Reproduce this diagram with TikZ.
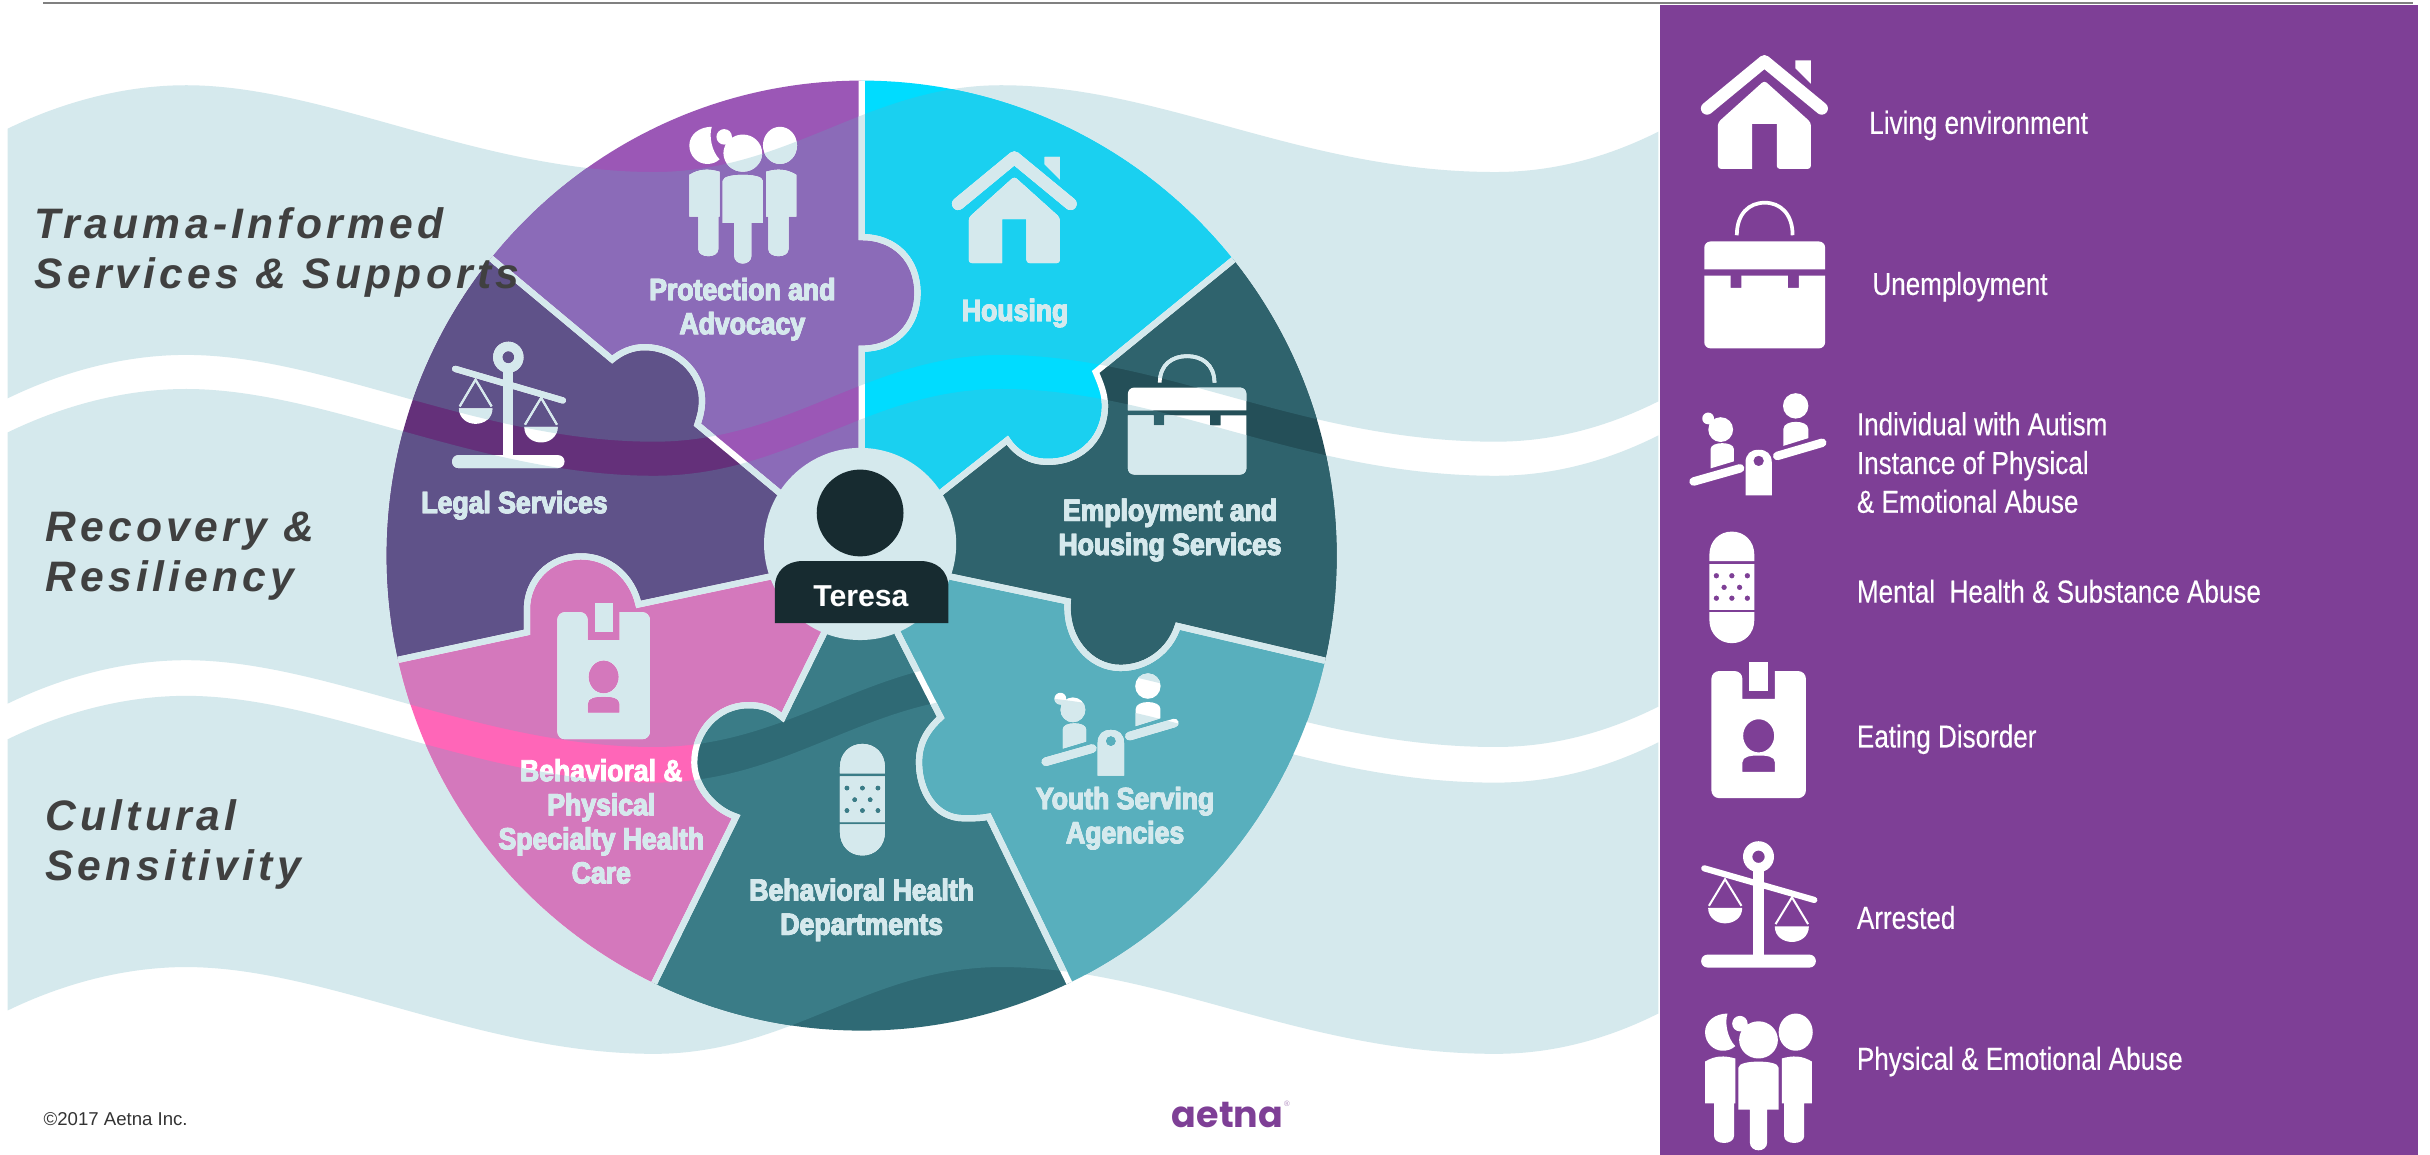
\documentclass[tikz,border=0pt]{standalone}
\usepackage{fontspec}
\newfontfamily\headfont[LetterSpace=10]{Liberation Sans}
\newfontfamily\wheelfont[FakeStretch=0.88,FakeBold=3]{Liberation Sans}
\newfontfamily\panelfont[FakeStretch=0.82,FakeBold=0.3]{Liberation Sans}
\newfontfamily\plainfont{Liberation Sans}
\newfontfamily\logofont{Poppins}

\definecolor{pale}{HTML}{D5E9ED}
\definecolor{panelpurple}{HTML}{7E3F96}
\definecolor{personblack}{HTML}{172B30}
\definecolor{headgray}{HTML}{404040}
\colorlet{ink}{white}

\newcommand{\bandpath}[2]{(5,{83+#1}) .. controls (40,{66+#1}) and (80,{55+#1}) .. (120,{55+#1}) .. controls (210,{55+#1}) and (310,{111+#1}) .. (422,{111+#1}) .. controls (510,{111+#1}) and (560,{55+#1}) .. (646,{55+#1}) .. controls (750,{55+#1}) and (840,{111+#1}) .. (965,{111+#1}) .. controls (1005,{111+#1}) and (1040,{100+#1}) .. (1070,{85+#1}) -- (1070,{85+#2}) .. controls (1040,{100+#2}) and (1005,{111+#2}) .. (965,{111+#2}) .. controls (840,{111+#2}) and (750,{55+#2}) .. (646,{55+#2}) .. controls (560,{55+#2}) and (510,{111+#2}) .. (422,{111+#2}) .. controls (310,{111+#2}) and (210,{55+#2}) .. (120,{55+#2}) .. controls (80,{55+#2}) and (40,{66+#2}) .. (5,{83+#2}) -- cycle}
\newcommand{\bands}{\bandpath{0}{174} \bandpath{196}{371} \bandpath{394}{569}}

\newcommand{\edgeA}{(556,290) -- (556,225) .. controls (578,225) and (592,210) .. (592,189) .. controls (592,168) and (578,153) .. (556,153) -- (556,40)}
\newcommand{\backA}{(556,40) -- (556,153) .. controls (578,153) and (592,168) .. (592,189) .. controls (592,210) and (578,225) .. (556,225) -- (556,290)}
\newcommand{\edgeB}{(607,318) -- (650,284) .. controls (656,293) and (665,298) .. (676,298) .. controls (700,298) and (713,280) .. (713,262) .. controls (713,254) and (710,247) .. (707,240) -- (815,152)}
\newcommand{\backB}{(815,152) -- (707,240) .. controls (710,247) and (713,254) .. (713,262) .. controls (713,280) and (700,298) .. (676,298) .. controls (665,298) and (656,293) .. (650,284) -- (607,318)}
\newcommand{\edgeC}{(613,372) -- (689,388) .. controls (687,412) and (703,431) .. (723,431) .. controls (740,431) and (755,420) .. (760,404) -- (875,431)}
\newcommand{\backC}{(875,431) -- (760,404) .. controls (755,420) and (740,431) .. (723,431) .. controls (703,431) and (687,412) .. (689,388) -- (613,372)}
\newcommand{\edgeD}{(579,408) -- (607,463) .. controls (597,472) and (593,481) .. (593,492) .. controls (593,510) and (603,528) .. (622,528) .. controls (628,528) and (633,528) .. (638,527) -- (700,655)}
\newcommand{\backD}{(700,655) -- (638,527) .. controls (633,528) and (628,528) .. (622,528) .. controls (603,528) and (593,510) .. (593,492) .. controls (593,481) and (597,472) .. (607,463) -- (579,408)}
\newcommand{\edgeE}{(532,408) -- (505,463) .. controls (498,457) and (491,455) .. (483,455) .. controls (463,455) and (448,472) .. (448,492) .. controls (448,507) and (460,522) .. (475,527) -- (412,655)}
\newcommand{\backE}{(412,655) -- (475,527) .. controls (460,522) and (448,507) .. (448,492) .. controls (448,472) and (463,455) .. (483,455) .. controls (491,455) and (498,457) .. (505,463) -- (532,408)}
\newcommand{\edgeF}{(497,372) -- (412,390) .. controls (408,372) and (393,359) .. (375,359) .. controls (354,359) and (340,375) .. (340,393) .. controls (340,398) and (340,403) .. (340,408) -- (237,430)}
\newcommand{\backF}{(237,430) -- (340,408) .. controls (340,403) and (340,398) .. (340,393) .. controls (340,375) and (354,359) .. (375,359) .. controls (393,359) and (408,372) .. (412,390) -- (497,372)}
\newcommand{\edgeG}{(503,318) -- (450,274) .. controls (452,268) and (453,264) .. (453,258) .. controls (453,240) and (436,224) .. (416,224) .. controls (408,224) and (401,227) .. (395,232) -- (298,151)}
\newcommand{\backG}{(298,151) -- (395,232) .. controls (401,227) and (408,224) .. (416,224) .. controls (436,224) and (453,240) .. (453,258) .. controls (453,264) and (452,268) .. (450,274) -- (503,318)}

\newcommand{\wheelpiece}[3]{
  \fill[#1] #3;
  \begin{scope}
    \clip #3;
    \fill[#2] \bands;
  \end{scope}
}

\tikzset{
  houseicon/.pic={
    \draw[ink, line width=8, line cap=round, line join=round] (-37,-2) -- (0,-32.5) -- (37,-2);
    \fill[ink] (20,-33) -- (30,-33) -- (30,-18) -- (20,-28) -- cycle;
    \fill[ink, rounded corners=2] (0,-20) -- (30,7) -- (30,37) -- (8,37) [sharp corners] -- (8,8) -- (-8,8) -- (-8,37) [rounded corners=2] -- (-30,37) -- (-30,7) -- cycle;
  },
  bagicon/.pic={
    \draw[ink, line width=2.4] (-18,-26) .. controls (-18,-40) and (-10,-47) .. (0,-47) .. controls (10,-47) and (18,-40) .. (18,-26);
    \fill[ink] (-39,-4) [rounded corners=4] -- (-39,-22) -- (39,-22) [sharp corners] -- (39,-4) -- cycle;
    \fill[ink] (-39,0) [rounded corners=4] -- (-39,47) -- (39,47) [sharp corners] -- (39,0) -- (22,0) -- (22,8) -- (15,8) -- (15,0) -- (-15,0) -- (-15,8) -- (-22,8) -- (-22,0) -- cycle;
  },
  seesawicon/.pic={
    \draw[ink, line width=5.5, line cap=round] (-42,24) -- (-12,15.5) (12,7.5) -- (41,-1);
    \fill[ink, even odd rule] (-8.5,33) -- (-8.5,12) .. controls (-8.5,6) and (-5,3.5) .. (0,3.5) .. controls (5,3.5) and (8.5,6) .. (8.5,12) -- (8.5,33) -- cycle (0,10.7) circle (3.4);
    \fill[ink] (-24.5,-9.5) circle (8) (-32.6,-16.7) circle (3.8);
    \fill[ink] (-31,15.5) -- (-31,3) .. controls (-31,-2) and (-16,-2) .. (-16,3) -- (-16,11) -- cycle;
    \fill[ink] (23.9,-24.8) circle (8.2);
    \fill[ink] (16,1) -- (16,-10) .. controls (16,-16) and (32,-16) .. (32,-10) -- (32,-4) -- cycle;
  },
  bandageicon/.pic={
    \fill[ink] (-14.5,-17) -- (-14.5,-21) .. controls (-14.5,-30) and (-8,-36) .. (0,-36) .. controls (8,-36) and (14.5,-30) .. (14.5,-21) -- (14.5,-17) -- cycle;
    \fill[ink] (-14.5,16) -- (-14.5,21) .. controls (-14.5,30) and (-8,36) .. (0,36) .. controls (8,36) and (14.5,30) .. (14.5,21) -- (14.5,16) -- cycle;
    \fill[ink, even odd rule] (-14.5,-15) rectangle (14.5,14.5)
      (-10,-7.5) circle (1.8) (0,-7.5) circle (1.8) (10,-7.5) circle (1.8)
      (-5,0) circle (1.8) (5,0) circle (1.8)
      (-10,7) circle (1.8) (0,7) circle (1.8) (10,7) circle (1.8);
  },
  badgeicon/.pic={
    \fill[ink, even odd rule] [rounded corners=5] (-30.5,-38) -- (-10.5,-38) [sharp corners] -- (-10.5,-20) -- (10.5,-20) -- (10.5,-38) [rounded corners=5] -- (30.5,-38) -- (30.5,44) -- (-30.5,44) -- cycle
      [sharp corners] (0,3.8) ellipse (10 and 10.7)
      (-10.5,27) -- (-10.5,21) .. controls (-10.5,17) and (-5,16.5) .. (0,16.5) .. controls (5,16.5) and (10.5,17) .. (10.5,21) -- (10.5,27) -- cycle;
    \fill[ink] (-6,-44) rectangle (6,-25);
  },
  scaleicon/.pic={
    \fill[ink, even odd rule] (0,-30.5) circle (10) (0,-30.5) circle (4);
    \fill[ink] (-3.4,-21) rectangle (3.4,34);
    \fill[ink, rounded corners=4] (-37,32.7) rectangle (37,41);
    \draw[ink, line width=4, line cap=round] (-35,-23) -- (36,-2.6);
    \draw[ink, line width=1.3] (-32,1.2) -- (-21.6,-16) -- (-11,1.2) (11,13) -- (21.6,-4.3) -- (32,13);
    \fill[ink] (-32.5,2.5) .. controls (-32.5,9) and (-27,12.5) .. (-21.6,12.5) .. controls (-16,12.5) and (-10.5,9) .. (-10.5,2.5) -- cycle;
    \fill[ink] (10.5,14.5) .. controls (10.5,21) and (16,24.5) .. (21.6,24.5) .. controls (27,24.5) and (32.5,21) .. (32.5,14.5) -- cycle;
  },
  peopleicon/.pic={
    \fill[ink] (0,-27) ellipse (12.5 and 12) (-12,-37.5) circle (5);
    \fill[ink] (24,-32) ellipse (11 and 12);
    \fill[ink] (-20,-44) .. controls (-28,-44) and (-34.5,-39) .. (-34.5,-32) .. controls (-34.5,-25) and (-29,-20) .. (-23,-20) .. controls (-20,-20) and (-17,-21) .. (-15,-23) .. controls (-20,-28) and (-22,-38) .. (-20,-44) -- cycle;
    \fill[ink] (-13,18) -- (-13,-9) .. controls (-13,-12) and (-6,-13) .. (0,-13) .. controls (6,-13) and (13,-12) .. (13,-9) -- (13,18) -- (5.6,18) -- (5.6,39) .. controls (5.6,46) and (-5.6,46) .. (-5.6,39) -- (-5.6,18) -- cycle;
    \fill[ink] (-34.5,14) -- (-34.5,-13) .. controls (-28,-17) and (-22,-17) .. (-15,-15) -- (-15,14) -- (-15.8,14) -- (-15.8,35) .. controls (-15.8,41) and (-28.7,41) .. (-28.7,35) -- (-28.7,14) -- cycle;
    \fill[ink] (34.5,14) -- (34.5,-13) .. controls (28,-17) and (22,-17) .. (15,-15) -- (15,14) -- (16.5,14) -- (16.5,35) .. controls (16.5,41) and (29.5,41) .. (29.5,35) -- (29.5,14) -- cycle;
  }
}

\newcommand{\wheelmarks}[1]{
  \colorlet{ink}{#1}
  \draw[ink, line width=4] \edgeA \edgeB \edgeC \edgeD \edgeE \edgeF \edgeG;
  \pic at (479.3,125.8) {peopleicon};
  \pic[scale=0.98] at (654.5,133.5) {houseicon};
  \pic[yscale=0.813, xscale=0.98] at (766,268) {bagicon};
  \pic at (716.8,467.5) {seesawicon};
  \pic at (556.5,516) {bandageicon};
  \pic[xscale=0.98] at (389.5,433) {badgeicon};
  \pic[xscale=0.98] at (328,261) {scaleicon};
  \node[wheeltext] (protection) at (479,199.5) {Protection and\\Advocacy};
  \node[wheeltext] (housing) at (655,202) {Housing};
  \node[wheeltext] (employment) at (755,342) {Employment and\\Housing Services};
  \node[wheeltext] (youth) at (726,528) {Youth Serving\\Agencies};
  \node[wheeltext] (health) at (556,587) {Behavioral Health\\Departments};
  \node[wheeltext] (specialty) at (388,530) {Behavioral \&\\Physical\\Specialty Health\\Care};
  \node[wheeltext] (legal) at (332,326) {Legal Services};
}

\begin{document}
\begin{tikzpicture}[x=1pt, y=-1pt,
    wheeltext/.style={text=ink, inner sep=0, align=center, font=\wheelfont\bfseries\fontsize{19.5}{22}\selectfont},
    headtext/.style={text=headgray, anchor=west, inner sep=0, align=left, font=\headfont\bfseries\itshape\fontsize{27.5}{32.5}\selectfont},
    paneltext/.style={text=white, anchor=west, inner sep=0, align=left, font=\panelfont\fontsize{20.5}{25}\selectfont}]
  \useasboundingbox (0,0) rectangle (1568,745);
  \fill[white] (0,0) rectangle (1568,745);

  \fill[pale] \bands;

  \begin{scope}
    \clip (556,358.5) circle (306.5);
    \wheelpiece{color={rgb,255:red,0;green,220;blue,255}}{color={rgb,255:red,26;green,208;blue,240}}{\edgeA -- (900,40) -- \backB -- cycle}
    \wheelpiece{color={rgb,255:red,36;green,79;blue,88}}{color={rgb,255:red,47;green,99;blue,109}}{\edgeB -- (900,300) -- \backC -- cycle}
    \wheelpiece{color={rgb,255:red,88;green,175;blue,189}}{color={rgb,255:red,88;green,175;blue,189}}{\edgeC -- (900,640) -- \backD -- cycle}
    \wheelpiece{color={rgb,255:red,47;green,106;blue,117}}{color={rgb,255:red,58;green,124;blue,135}}{\edgeD -- (556,690) -- \backE -- cycle}
    \wheelpiece{color={rgb,255:red,255;green,102;blue,184}}{color={rgb,255:red,212;green,120;blue,188}}{\edgeE -- (210,640) -- \backF -- cycle}
    \wheelpiece{color={rgb,255:red,100;green,48;blue,122}}{color={rgb,255:red,95;green,82;blue,137}}{\edgeF -- (210,300) -- \backG -- cycle}
    \wheelpiece{color={rgb,255:red,155;green,87;blue,182}}{color={rgb,255:red,139;green,107;blue,184}}{\edgeG -- (300,40) -- \backA -- cycle}

    \wheelmarks{white}
    \begin{scope}
      \clip \bands;
      \wheelmarks{pale}
    \end{scope}
  \end{scope}
  \colorlet{ink}{white}

  \fill[pale] (555,351) circle (62);
  \fill[personblack] (555,331) ellipse (28 and 28);
  \fill[personblack] (500,402) -- (500,379) .. controls (500,368) and (508,362) .. (518,362) -- (594,362) .. controls (604,362) and (612,368) .. (612,379) -- (612,402) -- cycle;
  \node[text=white, inner sep=0, font=\plainfont\bfseries\fontsize{19.5}{24}\selectfont] (teresa) at (555.5,385) {Teresa};

  \node[headtext] (trauma) at (22,163) {Trauma-Informed\\Services \& Supports};
  \node[headtext] (recovery) at (29,359) {Recovery \&\\Resiliency};
  \node[headtext] (cultural) at (29,545) {Cultural\\Sensitivity};

  \node[text=headgray!80!black, anchor=west, inner sep=0, font=\plainfont\fontsize{12}{14}\selectfont] (copyright) at (28,722) {©2017 Aetna Inc.};
  \node[text=panelpurple, anchor=west, inner sep=0, font=\logofont\bfseries\fontsize{23.5}{26}\selectfont] (logo) at (756,719.5) {aetna};
  \node[text=panelpurple!60, inner sep=0, font=\plainfont\fontsize{5}{6}\selectfont] (registered) at (830.5,712.5) {®};

  \fill[panelpurple] (1071,3) rectangle (1560,745);
  \draw[gray, line width=1.5] (28,2) -- (1557,2);

  \pic at (1138.5,72) {houseicon};
  \pic at (1138.7,177.8) {bagicon};
  \pic at (1134.8,286.7) {seesawicon};
  \pic at (1117.5,379) {bandageicon};
  \pic at (1134.8,471) {badgeicon};
  \pic at (1134.7,583.3) {scaleicon};
  \pic at (1134.7,698) {peopleicon};

  \node[paneltext] (living) at (1206,81) {Living environment};
  \node[paneltext] (unemployment) at (1208,185) {Unemployment};
  \node[paneltext] (autism) at (1198,298.5) {Individual with Autism\\Instance of Physical\\\& Emotional Abuse};
  \node[paneltext] (mental) at (1198,381.5) {Mental\ \ Health \& Substance Abuse};
  \node[paneltext] (eating) at (1198,477) {Eating Disorder};
  \node[paneltext] (arrested) at (1198,592) {Arrested};
  \node[paneltext] (abuse) at (1198,685) {Physical \& Emotional Abuse};
\end{tikzpicture}
\end{document}
